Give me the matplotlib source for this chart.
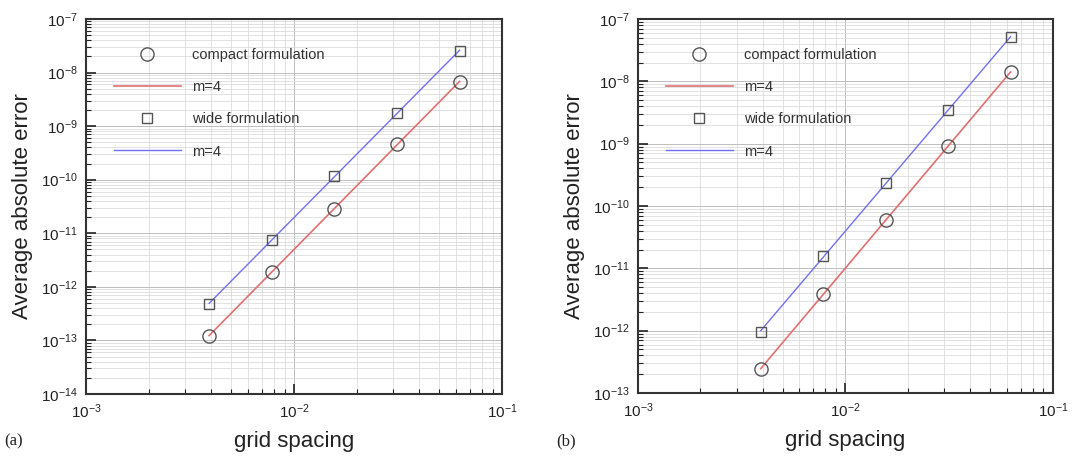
import matplotlib
matplotlib.use('Agg')
import matplotlib.pyplot as plt
import numpy as np
from matplotlib.ticker import LogLocator, NullFormatter

plt.rcParams['font.family'] = ['Liberation Sans', 'DejaVu Sans']

# grid spacing h = 1/256 ... 1/16
h = [1/256., 1/128., 1/64., 1/32., 1/16.]

# panel (a)
compact_a = [1.22e-13, 1.9e-12, 2.85e-11, 4.6e-10, 6.7e-9]
wide_a = [4.8e-13, 7.6e-12, 1.15e-10, 1.72e-9, 2.57e-8]
# panel (b)
compact_b = [2.4e-13, 3.9e-12, 6.0e-11, 9.2e-10, 1.39e-8]
wide_b = [9.7e-13, 1.56e-11, 2.3e-10, 3.5e-9, 5.1e-8]

ylims = [(1e-14, 1e-7), (1e-13, 1e-7)]
panel_labels = ['(a)', '(b)']

red = '#e07070'
blue = '#7070f0'
mk_edge = '#555555'

fig = plt.figure(figsize=(10.9, 4.57), dpi=100)
axes_pos = [[0.0789, 0.1379, 0.3817, 0.8206],
            [0.5853, 0.1400, 0.3807, 0.8184]]


def powerfit(x, y):
    p = np.polyfit(np.log10(x), np.log10(y), 1)
    return 10**np.polyval(p, np.log10(x))


for i, (comp, wide) in enumerate([(compact_a, wide_a), (compact_b, wide_b)]):
    ax = fig.add_axes(axes_pos[i])
    ax.set_xscale('log')
    ax.set_yscale('log')
    ax.plot(h, comp, 'o', mfc='none', mec=mk_edge, ms=9.5, mew=1.0,
            label='compact formulation', zorder=4)
    ax.plot(h, powerfit(h, comp), '-', color=red, lw=1.2, label='m=4', zorder=3)
    ax.plot(h, wide, 's', mfc='none', mec=mk_edge, ms=7, mew=1.0,
            label='wide formulation', zorder=4)
    ax.plot(h, powerfit(h, wide), '-', color=blue, lw=1.0, label='m=4', zorder=3)

    ax.set_xlim(1e-3, 1e-1)
    ax.set_ylim(*ylims[i])
    ax.xaxis.set_major_locator(LogLocator(base=10, numticks=10))
    ax.xaxis.set_minor_locator(LogLocator(base=10, subs=np.arange(2, 10), numticks=20))
    ax.yaxis.set_major_locator(LogLocator(base=10, numticks=12))
    ax.yaxis.set_minor_locator(LogLocator(base=10, subs=np.arange(2, 10), numticks=20))
    ax.xaxis.set_minor_formatter(NullFormatter())
    ax.yaxis.set_minor_formatter(NullFormatter())

    ax.grid(True, which='major', color='#bdbdbd', lw=0.7)
    ax.grid(True, which='minor', color='#d6d6d6', lw=0.5)
    ax.set_axisbelow(True)

    ax.tick_params(which='both', direction='in', top=False, right=False,
                   labelsize=11, colors='#222222')
    ax.tick_params(which='major', length=7, width=1.2, pad=6)
    ax.tick_params(which='minor', length=3.5, width=0.8)
    for s in ax.spines.values():
        s.set_linewidth(1.5)
        s.set_color('#333333')

    ax.set_xlabel('grid spacing', fontsize=16, color='#222222', labelpad=7)
    ax.set_ylabel('Average absolute error', fontsize=16, color='#222222', labelpad=6)

    leg = ax.legend(loc='upper left', bbox_to_anchor=(0.035, 0.958), frameon=False,
                    fontsize=10.5, handlelength=4.6, handletextpad=0.8,
                    labelspacing=1.25, numpoints=1)
    for t in leg.get_texts():
        t.set_color('#333333')

    fig.text(axes_pos[i][0] - 0.075, 0.025, panel_labels[i], family='Liberation Serif',
             fontsize=12, color='#222222')

fig.savefig('out.png', dpi=100)
